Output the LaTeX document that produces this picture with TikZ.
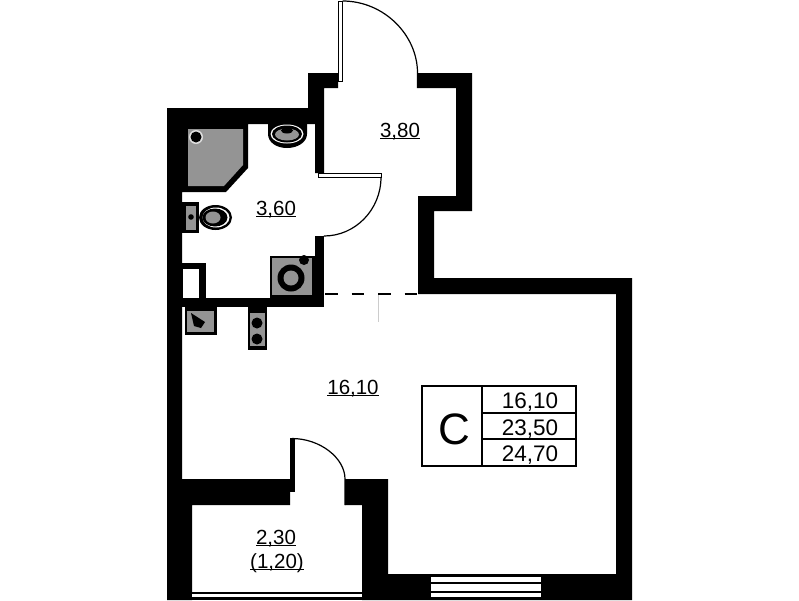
\documentclass[tikz,border=0pt]{standalone}
\usepackage{fontspec}
\setmainfont{Liberation Sans}
\definecolor{fixgray}{gray}{0.58}
\newcommand{\roomarea}[1]{$\underline{\smash{\hbox{#1}}}$}
\tikzset{
	wall/.style={fill=black,draw=none},
	leaf/.style={draw=black,fill=white,line width=1pt},
	swing/.style={draw=black,line width=1.2pt},
	fixture/.style={fill=fixgray,draw=none},
	areatext/.style={anchor=base,inner sep=0pt,font=\fontsize{20.5}{24}\selectfont},
	celltext/.style={anchor=base,inner sep=0pt,font=\fontsize{22.5}{26}\selectfont}
}
\begin{document}
\begin{tikzpicture}[x=1pt,y=-1pt]
	\useasboundingbox (0,0) rectangle (799,600);

	% walls
	\fill[wall] (167,108) -- (308,108) -- (308,73) -- (338,73) -- (338,88) -- (324,88) -- (324,173) -- (315,173) -- (315,124) -- (248,124) -- (248,168) -- (226,192) -- (182,192) -- (182,479) -- (290,479) -- (290,505) -- (192,505) -- (192,600) -- (167,600) -- cycle;
	\fill[wall] (418,73) -- (472,73) -- (472,211) -- (434,211) -- (434,278) -- (632,278) -- (632,600) -- (362,600) -- (362,505) -- (345,505) -- (345,479) -- (388,479) -- (388,574) -- (616,574) -- (616,294) -- (418,294) -- (418,196) -- (456,196) -- (456,88) -- (418,88) -- cycle;
	\fill[wall] (182,298) rectangle (324,307);
	\fill[wall] (315,236) rectangle (324,307);
	\fill[wall] (182,263) rectangle (206,298);
	\fill[white] (183,269) rectangle (199,298);

	% windows
	\fill[white] (431,577) rectangle (541,582);
	\fill[white] (431,584) rectangle (541,591);
	\fill[white] (431,593) rectangle (541,597);
	\fill[wall] (192,592) rectangle (362,600);
	\fill[white] (192,594) rectangle (362,597);

	% doors
	\draw[leaf] (338.5,1) rectangle (342.5,81);
	\draw[swing] (342.5,1) .. controls (384,1) and (417.5,35) .. (417.5,73) -- (417.5,88);
	\draw[leaf] (318,173.5) rectangle (381,177);
	\draw[swing] (381,177) .. controls (381,210) and (355,236) .. (324,236);
	\fill[wall] (290,438) rectangle (295,492);
	\draw[swing] (292,438.5) .. controls (320,438.5) and (345,458) .. (345,479) -- (345,505);

	% opening between hall and room
	\draw[line width=1.2pt,dash pattern=on 12.5pt off 14pt] (325,294) -- (418,294);
	\draw[gray!40,line width=0.8pt] (378,295) -- (378,322);

	% shower
	\fill[fixture] (188,129) -- (243,129) -- (243,165) -- (224,186) -- (188,186) -- cycle;
	\fill[gray!25] (196,137) circle (7);
	\fill[black] (196,137) circle (5.5);

	% basin
	\fill[black] (268,124) -- (307,124) -- (307,134) .. controls (307,142) and (298,148) .. (287,148) .. controls (276,148) and (268,142) .. (268,134) -- cycle;
	\fill[white] (287,134) ellipse (16.5 and 9.5);
	\fill[black] (287,134) ellipse (15 and 8.5);
	\fill[fixgray] (287,134.5) ellipse (12 and 6);
	\fill[black] (287,130.5) ellipse (6 and 3);

	% toilet
	\fill[black] (182,202) rectangle (199,233);
	\fill[fixture] (186,206) rectangle (196,230);
	\fill[black] (191,217) circle (2.8);
	\fill[black] (215.5,217.5) ellipse (16.5 and 12.5);
	\fill[white] (216,217.5) ellipse (13.5 and 10);
	\fill[black] (215,217.5) ellipse (12.5 and 9);
	\fill[fixgray] (213,217.5) ellipse (7.5 and 6);

	% washing machine
	\fill[black] (270,256) rectangle (315,298);
	\fill[fixture] (272,258) rectangle (312,295);
	\fill[black] (304,260) circle (5);
	\fill[black] (291,278) circle (13.5);
	\fill[fixgray] (291,278) circle (7.5);

	% kitchen sink
	\fill[black] (185,307) rectangle (217,335);
	\fill[fixture] (187,311) rectangle (214,332);
	\fill[black] (191,313) -- (205,322) -- (201,328) -- (194,326) -- cycle;

	% stove
	\fill[black] (248,307) rectangle (267,350);
	\fill[fixture] (250,313) rectangle (265,346);
	\fill[black] (257,323) circle (5.5);
	\fill[black] (257,339) circle (5.5);

	% area labels
	\node[areatext] (hall) at (400,137) {\roomarea{3,80}};
	\node[areatext] (bath) at (276,215) {\roomarea{3,60}};
	\node[areatext] (room) at (353,394) {\roomarea{16,10}};
	\node[areatext] (balc) at (276,544) {\roomarea{2,30}};
	\node[areatext] (balcb) at (277,568) {\roomarea{(1,20)}};

	% table
	\draw[line width=1.2pt] (422,386) rectangle (576,466);
	\draw[line width=1.2pt] (482,386) -- (482,466);
	\draw[line width=1.2pt] (482,413) -- (576,413);
	\draw[line width=1.6pt] (482,439) -- (576,439);
	\node[anchor=base,inner sep=0pt,font=\fontsize{44}{50}\selectfont] (type) at (454,444) {C};
	\node[celltext] (living) at (530,408) {16,10};
	\node[celltext] (total) at (530,435) {23,50};
	\node[celltext] (full) at (530,461) {24,70};
\end{tikzpicture}
\end{document}
